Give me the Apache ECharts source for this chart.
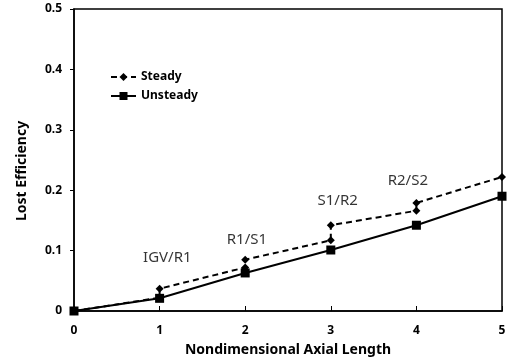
<!DOCTYPE html>
<html>
<head>
<meta charset="utf-8">
<script src="https://cdn.jsdelivr.net/npm/echarts@6/dist/echarts.min.js"></script>
<style>
  html, body { margin: 0; padding: 0; background: #fff; }
  #chart { width: 507px; height: 359px; }
</style>
</head>
<body>
<div id="chart"></div>
<script>
// 数据
const steadyX = [0, 1, 1, 2, 2, 3, 3, 4, 4, 5];
const steadyY = [0, 0.022, 0.037, 0.072, 0.085, 0.117, 0.142, 0.166, 0.179, 0.222];
const unsteadyX = [0, 1, 2, 3, 4, 5];
const unsteadyY = [0, 0.021, 0.063, 0.101, 0.142, 0.19];
const annoX = [1.09, 2.02, 3.08, 3.9];
const annoY = [0.088, 0.118, 0.182, 0.215];
const annoText = ['IGV/R1', 'R1/S1', 'S1/R2', 'R2/S2'];

const font = 'Noto Sans';
const chart = echarts.init(document.getElementById('chart'));

const zip = (xs, ys) => xs.map((x, i) => [x, ys[i]]);

chart.setOption({
    animation: false,
    grid: {
        left: 74,
        top: 9,
        right: 5,
        bottom: 48,
        containLabel: false,
        outerBoundsMode: 'none',
        show: true,
        borderColor: '#000',
        borderWidth: 1.5
    },
    legend: {
        left: 105,
        top: 66,
        orient: 'vertical',
        itemGap: 7,
        itemWidth: 25,
        itemHeight: 10,
        textStyle: { fontFamily: font, fontWeight: 'bold', fontSize: 12, color: '#000' },
        data: ['Steady', 'Unsteady']
    },
    xAxis: {
        type: 'value',
        min: 0,
        max: 5,
        interval: 1,
        name: 'Nondimensional Axial Length',
        nameLocation: 'middle',
        nameGap: 32,
        nameTextStyle: { fontFamily: font, fontWeight: 'bold', fontSize: 14, color: '#000' },
        axisLine: { show: true, lineStyle: { color: '#000', width: 1.5 } },
        axisTick: { show: true, inside: true, length: 5, lineStyle: { color: '#000' } },
        axisLabel: { fontFamily: font, fontWeight: 'bold', fontSize: 12, color: '#000', margin: 14 },
        splitLine: { show: false }
    },
    yAxis: {
        type: 'value',
        min: 0,
        max: 0.5,
        interval: 0.1,
        name: 'Lost Efficiency',
        nameLocation: 'middle',
        nameGap: 45,
        nameTextStyle: { fontFamily: font, fontWeight: 'bold', fontSize: 14, color: '#000', padding: [0, 22, 0, 0] },
        axisLine: { show: true, lineStyle: { color: '#000', width: 1.5 } },
        axisTick: { show: true, length: 4, lineStyle: { color: '#000' } },
        axisLabel: { fontFamily: font, fontWeight: 'bold', fontSize: 12, color: '#000', margin: 12 },
        splitLine: { show: false }
    },
    series: [
        {
            name: 'Steady',
            type: 'line',
            data: zip(steadyX, steadyY),
            symbol: 'diamond',
            symbolSize: 8,
            lineStyle: { color: '#000', width: 2, type: [6, 4] },
            itemStyle: { color: '#000' },
            z: 3
        },
        {
            name: 'Unsteady',
            type: 'line',
            data: zip(unsteadyX, unsteadyY),
            symbol: 'rect',
            symbolSize: 9,
            lineStyle: { color: '#000', width: 2 },
            itemStyle: { color: '#000' },
            z: 4
        },
        {
            // 标注
            type: 'scatter',
            data: annoX.map((x, i) => [x, annoY[i], annoText[i]]),
            symbolSize: 0,
            silent: true,
            label: {
                show: true,
                position: 'inside',
                formatter: p => p.data[2],
                fontFamily: font,
                fontSize: 15,
                color: '#000'
            }
        }
    ]
});
</script>
</body>
</html>
